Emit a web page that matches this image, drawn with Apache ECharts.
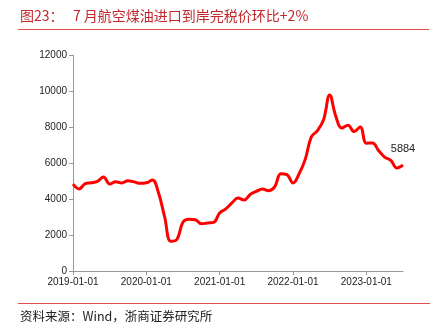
<!DOCTYPE html>
<html>
<head>
<meta charset="utf-8">
<script src="https://cdn.jsdelivr.net/npm/echarts@6/dist/echarts.min.js"></script>
<style>html,body{margin:0;padding:0;background:#fff;}#c{width:439px;height:332px;}</style>
</head>
<body>
<div id="c"></div>
<script>
// Monthly categories 2019-01 .. 2023-07
var startYear = 2019, monthCount = 55;
var categories = [];
for (var i = 0; i < monthCount; i++) {
  var y = startYear + Math.floor(i / 12), m = (i % 12) + 1;
  categories.push(y + '-' + (m < 10 ? '0' + m : m) + '-01');
}
// Jet fuel import landed duty-paid price (yuan/ton)
var priceValues = [
  4830, 4560, 4850, 4900, 4980, 5220, 4830, 4960, 4890, 5020, 4950, 4870,
  4900, 5050, 4330, 3000, 1650, 1750, 2720, 2880, 2850, 2620, 2670, 2700,
  3220, 3450, 3780, 4050, 3940, 4250, 4420, 4560, 4460, 4670, 5400, 5350,
  4890, 5400, 6200, 7450, 7800, 8400, 9780, 8600, 7940, 8100, 7750, 8000,
  7100, 7110, 6700, 6330, 6150, 5720, 5884
];
var yTicks = [0, 2000, 4000, 6000, 8000, 10000, 12000];
var titleText = '图23：   7 月航空煤油进口到岸完税价环比+2%';
var sourceText = '资料来源：Wind，浙商证券研究所';

var chart = echarts.init(document.getElementById('c'), null, {renderer: 'canvas'});
var lastIdx = priceValues.length - 1;
chart.setOption({
  animation: false,
  backgroundColor: '#fff',
  grid: {left: 73, right: 36, top: 55, bottom: 61},
  xAxis: {
    type: 'category',
    data: categories,
    boundaryGap: false,
    axisLine: {lineStyle: {color: '#999', width: 1}},
    axisTick: {show: true, interval: function (i) { return i % 12 === 0; }, length: 4, lineStyle: {color: '#999'}},
    axisLabel: {interval: function (i) { return i % 12 === 0; }, color: '#222', fontSize: 10, fontFamily: 'Liberation Sans, Arial', margin: 6}
  },
  yAxis: {
    type: 'value',
    min: yTicks[0], max: yTicks[yTicks.length - 1], interval: 2000,
    splitLine: {show: false},
    axisLine: {show: true, lineStyle: {color: '#999', width: 1}},
    axisTick: {show: true, length: 4, lineStyle: {color: '#999'}},
    axisLabel: {color: '#222', fontSize: 10, fontFamily: 'Liberation Sans, Arial', margin: 6,
      formatter: function (v) { return String(v); }}
  },
  series: [{
    type: 'line',
    data: priceValues.map(function (v, i) {
      return i === lastIdx ? {
        value: v,
        symbol: 'circle', symbolSize: 1,
        itemStyle: {color: 'rgba(255,0,0,0)'},
        label: {show: true, position: 'top', distance: 10, color: '#222', fontSize: 11,
          fontFamily: 'Liberation Sans, Arial', formatter: '{c}'}
      } : {value: v, symbol: 'none'};
    }),
    smooth: 0.4,
    showSymbol: true,
    showAllSymbol: true,
    lineStyle: {color: '#ff0000', width: 3}
  }],
  graphic: [
    {type: 'text', left: 20, top: 9, style: {text: titleText, fill: '#c0282d', font: '14px "Noto Sans CJK SC"'}},
    {type: 'line', shape: {x1: 18, y1: 29.5, x2: 429, y2: 29.5}, style: {stroke: '#e05050', lineWidth: 1}},
    {type: 'line', shape: {x1: 18, y1: 303.5, x2: 430, y2: 303.5}, style: {stroke: '#e05050', lineWidth: 1}},
    {type: 'text', left: 20, top: 310, style: {text: sourceText, fill: '#222', font: '12.5px "Noto Sans CJK SC"'}}
  ]
});
</script>
</body>
</html>
